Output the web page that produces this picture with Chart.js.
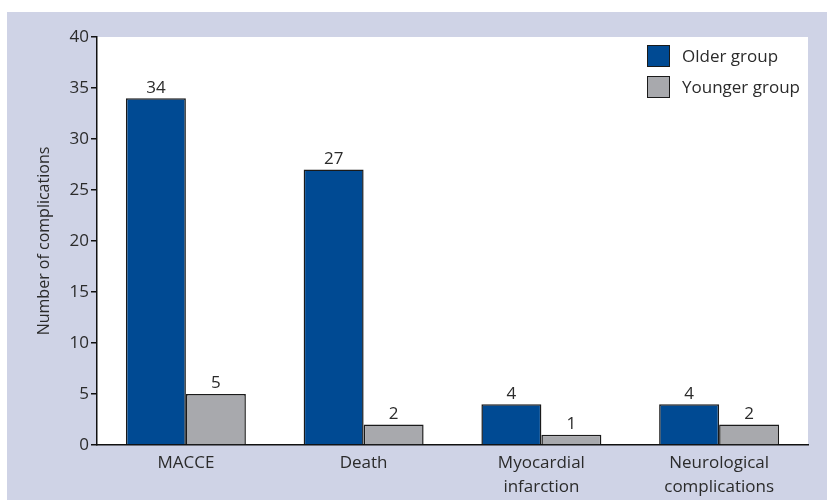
<!DOCTYPE html>
<html>
<head>
<meta charset="utf-8">
<script src="https://cdn.jsdelivr.net/npm/chart.js@4.4.0/dist/chart.umd.min.js"></script>
<style>
  html, body { margin: 0; padding: 0; background: #fff; }
  #wrap { position: absolute; left: 7px; top: 12px; width: 820px; height: 488px; background: #cfd3e6; }
</style>
</head>
<body>
<div id="wrap"><canvas id="chart" width="820" height="488"></canvas></div>
<script>
const categories = [["MACCE"], ["Death"], ["Myocardial", "infarction"], ["Neurological", "complications"]];
const olderGroup = [34, 27, 4, 4];
const youngerGroup = [5, 2, 1, 2];
const seriesNames = ["Older group", "Younger group"];
const yTicks = [0, 5, 10, 15, 20, 25, 30, 35, 40];

const FONT = "'Open Sans', 'DejaVu Sans', sans-serif";
const TEXT = "#2b2b2b";

// white plot panel
const panelBg = {
  id: "panelBg",
  beforeDraw(chart) {
    const { ctx, chartArea: a } = chart;
    ctx.save();
    ctx.fillStyle = "#fff";
    ctx.fillRect(a.left, a.top, a.right - a.left, a.bottom - a.top);
    ctx.restore();
  }
};

// numbers above the bars
const barValues = {
  id: "barValues",
  afterDatasetsDraw(chart) {
    const { ctx } = chart;
    ctx.save();
    ctx.font = "17px " + FONT;
    ctx.fillStyle = TEXT;
    ctx.textAlign = "center";
    ctx.textBaseline = "bottom";
    chart.data.datasets.forEach((ds, i) => {
      chart.getDatasetMeta(i).data.forEach((bar, j) => {
        ctx.fillText(ds.data[j], bar.x, bar.y - 2);
      });
    });
    ctx.restore();
  }
};

// legend box in the top right
const boxLegend = {
  id: "boxLegend",
  afterDraw(chart) {
    const { ctx, chartArea: a } = chart;
    ctx.save();
    ctx.font = "17px " + FONT;
    ctx.textBaseline = "middle";
    chart.data.datasets.forEach((ds, i) => {
      const x = a.right - 161;
      const y = a.top + 8 + i * 31;
      ctx.fillStyle = ds.backgroundColor;
      ctx.fillRect(x, y, 23, 22);
      ctx.strokeStyle = "#1a1a1a";
      ctx.lineWidth = 1;
      ctx.strokeRect(x + 0.5, y + 0.5, 22, 21);
      ctx.fillStyle = TEXT;
      ctx.fillText(ds.label, x + 35, y + 12);
    });
    ctx.restore();
  }
};

new Chart(document.getElementById("chart"), {
  type: "bar",
  data: {
    labels: categories,
    datasets: [
      { label: seriesNames[0], data: olderGroup, backgroundColor: "#004a93", borderColor: "#1a1a1a", borderWidth: 1.5, borderSkipped: "bottom" },
      { label: seriesNames[1], data: youngerGroup, backgroundColor: "#a8a9ad", borderColor: "#1a1a1a", borderWidth: 1.5, borderSkipped: "bottom" }
    ]
  },
  options: {
    responsive: false,
    animation: false,
    layout: { padding: { top: 25, right: 19, left: 28, bottom: 0 } },
    datasets: { bar: { categoryPercentage: 0.675, barPercentage: 1 } },
    plugins: {
      legend: { display: false },
      tooltip: { enabled: false }
    },
    scales: {
      x: {
        grid: { display: false, drawTicks: false },
        border: { color: "#111", width: 1.5 },
        ticks: { color: TEXT, font: { family: FONT, size: 17, lineHeight: 1.4 }, padding: 6, maxRotation: 0 },
        afterFit(s) { s.height = 55; }
      },
      y: {
        min: 0,
        max: 40,
        afterBuildTicks(s) { s.ticks = yTicks.map(v => ({ value: v })); },
        grid: { drawOnChartArea: false, tickLength: 6, color: "#111", lineWidth: 1.5 },
        border: { color: "#111", width: 1.5 },
        ticks: { color: TEXT, font: { family: FONT, size: 17 }, padding: 2 },
        title: { display: true, text: "Number of complications", color: TEXT, font: { family: FONT, size: 16 }, padding: { top: 0, bottom: 0 } },
        afterFit(s) { s.width = 62; }
      }
    }
  },
  plugins: [panelBg, barValues, boxLegend]
});
</script>
</body>
</html>
